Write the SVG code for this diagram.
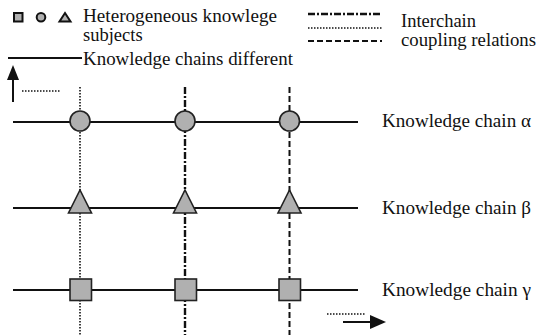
<svg xmlns="http://www.w3.org/2000/svg" width="537" height="335" viewBox="0 0 537 335">
<style>
.t{font-family:'Liberation Serif','Times New Roman',Times,Tinos,'DejaVu Serif','Noto Serif',FreeSerif,Georgia,serif;font-size:18.5px;fill:#111}
.chain{stroke:#111;stroke-width:2;fill:none}
.dot{stroke:#111;stroke-width:1.6;stroke-dasharray:1.5 1.5;fill:none}
.dd{stroke:#111;stroke-width:2.4;stroke-dasharray:7 2 2 2;fill:none}
.dash{stroke:#111;stroke-width:2;stroke-dasharray:6 3;fill:none}
.subj{fill:#b0b0b0;stroke:#222;stroke-width:1.6}
.lsubj{fill:#b0b0b0;stroke:#111;stroke-width:2}
</style>
<rect width="537" height="335" fill="#fff"/>
<g id="legend">
<rect class="lsubj" x="14" y="13" width="8.5" height="8.5"/>
<circle class="lsubj" cx="41" cy="17.3" r="4.3"/>
<polygon class="lsubj" points="65,13 70.5,21.5 59.5,21.5"/>
<text class="t" x="83" y="22" textLength="194" lengthAdjust="spacingAndGlyphs">Heterogeneous knowlege</text>
<text class="t" x="83" y="41">subjects</text>
<line class="chain" x1="8" y1="58" x2="82" y2="58"/>
<text class="t" x="83" y="65" textLength="210" lengthAdjust="spacingAndGlyphs">Knowledge chains different</text>
<line class="dd" x1="308" y1="14" x2="382" y2="14"/>
<line class="dot" x1="308" y1="28" x2="382" y2="28"/>
<line class="dash" x1="308" y1="41" x2="382" y2="41"/>
<text class="t" x="401" y="27">Interchain</text>
<text class="t" x="401" y="46" textLength="135" lengthAdjust="spacingAndGlyphs">coupling relations</text>
<line class="chain" x1="13" y1="78" x2="13" y2="102"/>
<polygon points="13,65 19,80 7,80" fill="#111"/>
<line class="dot" x1="22" y1="91" x2="60" y2="91"/>
<line class="dot" x1="327" y1="314" x2="365" y2="314"/>
<line class="chain" x1="343" y1="322" x2="372" y2="322"/>
<polygon points="370,315 386,322 370,329" fill="#111"/>
</g>
<g id="connectors">
<line class="dot" x1="80" y1="87" x2="80" y2="335"/>
<line class="dd" x1="185" y1="87" x2="185" y2="335"/>
<line class="dash" x1="289.5" y1="87" x2="289.5" y2="335"/>
<line class="chain" x1="13" y1="122" x2="358" y2="122"/>
<line class="chain" x1="13" y1="208" x2="358" y2="208"/>
<line class="chain" x1="13" y1="290" x2="358" y2="290"/>
</g>
<g id="chain-alpha">
<text class="t" x="382" y="127" textLength="149" lengthAdjust="spacingAndGlyphs">Knowledge chain α</text>
</g>
<g id="chain-beta">
<text class="t" x="382" y="214" textLength="149" lengthAdjust="spacingAndGlyphs">Knowledge chain β</text>
</g>
<g id="chain-gamma">
<text class="t" x="382" y="296" textLength="149" lengthAdjust="spacingAndGlyphs">Knowledge chain γ</text>
</g>
<g id="alpha1"><circle class="subj" cx="80" cy="121" r="10"/></g>
<g id="alpha2"><circle class="subj" cx="185" cy="121" r="10"/></g>
<g id="alpha3"><circle class="subj" cx="289.5" cy="121" r="10"/></g>
<g id="beta1"><polygon class="subj" points="80,190 91.5,213 68.5,213"/></g>
<g id="beta2"><polygon class="subj" points="185,190 196.5,213 173.5,213"/></g>
<g id="beta3"><polygon class="subj" points="289.5,190 301,213 278,213"/></g>
<g id="gamma1"><rect class="subj" x="70" y="279" width="21.5" height="21.5"/></g>
<g id="gamma2"><rect class="subj" x="175" y="279" width="21.5" height="21.5"/></g>
<g id="gamma3"><rect class="subj" x="279" y="279" width="21.5" height="21.5"/></g>
</svg>
